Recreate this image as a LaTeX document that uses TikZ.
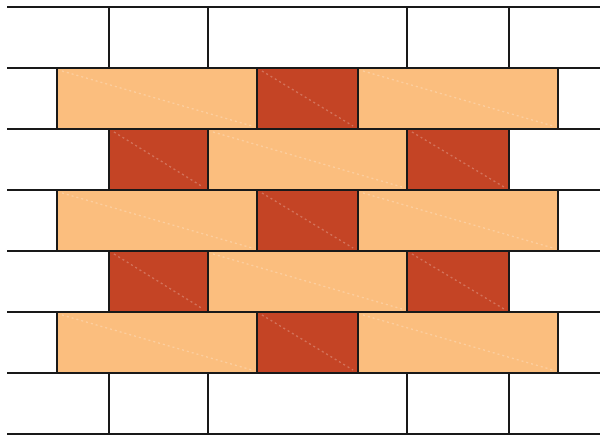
\documentclass[tikz,border=0pt]{standalone}
\definecolor{lightbrick}{HTML}{FBBE7E}
\definecolor{darkbrick}{HTML}{C44425}
\begin{document}
\begin{tikzpicture}[x=1pt,y=-1pt,
  joint/.style={line width=2.8pt,black!90},
  diag/.style={white,opacity=0.25,line width=1.3pt,dash pattern=on 2pt off 3pt}]
\useasboundingbox (0,0) rectangle (600,435);
\fill[white] (0,0) rectangle (600,435);
% bricks
\foreach \y in {68,190,312}{
  \fill[lightbrick] (57,\y) rectangle (257,\y+61);
  \fill[darkbrick] (257,\y) rectangle (358,\y+61);
  \fill[lightbrick] (358,\y) rectangle (558,\y+61);
  \draw[diag] (62,\y+3) -- (252,\y+58);
  \draw[diag] (262,\y+3) -- (353,\y+58);
  \draw[diag] (363,\y+3) -- (553,\y+58);
}
\foreach \y in {129,251}{
  \fill[darkbrick] (109,\y) rectangle (208,\y+61);
  \fill[lightbrick] (208,\y) rectangle (407,\y+61);
  \fill[darkbrick] (407,\y) rectangle (509,\y+61);
  \draw[diag] (114,\y+3) -- (203,\y+58);
  \draw[diag] (213,\y+3) -- (402,\y+58);
  \draw[diag] (412,\y+3) -- (504,\y+58);
}
% horizontal joints
\foreach \y in {7,68,129,190,251,312,373,434}{
  \draw[joint] (7,\y) -- (600,\y);
}
% vertical joints
\foreach \y in {7,129,251,373}{
  \foreach \x in {109,208,407,509}{
    \draw[joint] (\x,\y) -- (\x,\y+61);
  }
}
\foreach \y in {68,190,312}{
  \foreach \x in {57,257,358,558}{
    \draw[joint] (\x,\y) -- (\x,\y+61);
  }
}
\end{tikzpicture}
\end{document}
